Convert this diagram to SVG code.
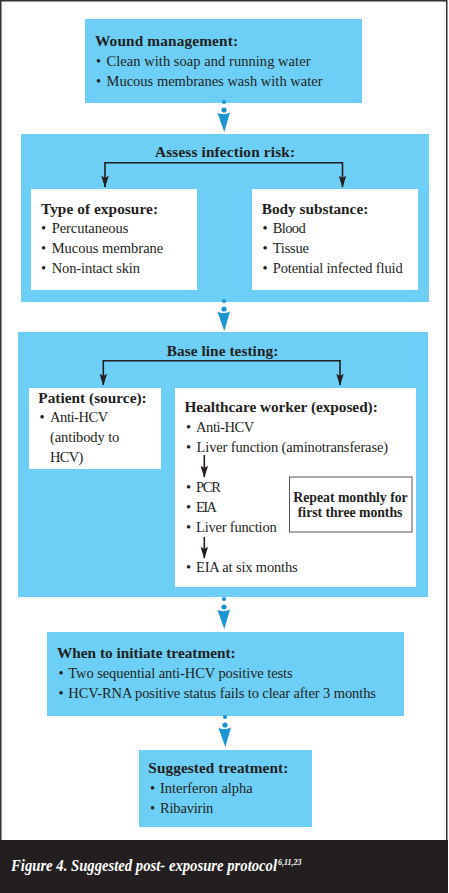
<svg xmlns="http://www.w3.org/2000/svg" xmlns:xlink="http://www.w3.org/1999/xlink" width="449" height="893" viewBox="0 0 449 893">
<style>
.blue{fill:#6dcff6}
.white{fill:#ffffff}
.t{font-family:"Liberation Serif","Times New Roman",serif;font-size:14.5px;fill:#231f20}
.b{font-family:"Liberation Serif","Times New Roman",serif;font-size:15.3px;font-weight:bold;fill:#231f20}
.rb{font-family:"Liberation Serif","Times New Roman",serif;font-size:13.8px;font-weight:bold;fill:#231f20}
.line{fill:none;stroke:#231f20;stroke-width:1.6}
.cap{font-family:"Liberation Serif","Times New Roman",serif;font-size:16px;font-weight:bold;font-style:italic;fill:#ffffff}
</style>
<defs>
<marker id="ah" viewBox="0 0 16 10" refX="15" refY="5" markerWidth="12" markerHeight="7.5" markerUnits="userSpaceOnUse" orient="auto-start-reverse">
<path d="M0,0 L16,5 L0,10 L3,5 Z" fill="#231f20"/>
</marker>
<g id="flow">
<circle cx="0" cy="0" r="2.1" fill="#1b95d3"/>
<circle cx="0" cy="8" r="2.6" fill="#1b95d3"/>
<path d="M-6.5,11 Q0,13.5 6,10.5 L0.3,30 Z" fill="#1b95d3"/>
</g>
</defs>
<rect x="0.75" y="0.75" width="446" height="892" fill="#ffffff" stroke="#333333" stroke-width="1.5"/>
<g id="caption">
<rect x="0" y="840" width="448" height="53" fill="#231f20"/>
<text class="cap" x="11" y="871"><tspan textLength="266" lengthAdjust="spacingAndGlyphs">Figure 4. Suggested post- exposure protocol</tspan><tspan dx="1" dy="-6" style="font-size:8px">6,11,23</tspan></text>
</g>
<g id="wound">
<rect class="blue" x="85" y="19" width="277" height="84"/>
<text class="b" x="95" y="45.7" textLength="143">Wound management:</text>
<text class="t" y="65.7"><tspan x="96">•</tspan><tspan x="106.5" textLength="204">Clean with soap and running water</tspan></text>
<text class="t" y="85.7"><tspan x="96">•</tspan><tspan x="106.5" textLength="216">Mucous membranes wash with water</tspan></text>
</g>
<g id="assess">
<rect class="blue" x="21" y="134" width="408" height="168"/>
<text class="b" x="155" y="156.7" textLength="140">Assess infection risk:</text>
</g>
<g id="exposure">
<rect class="white" x="31" y="189" width="166" height="101"/>
<text class="b" x="41" y="214" textLength="117">Type of exposure:</text>
<text class="t" y="233.3"><tspan x="41">•</tspan><tspan x="51.7" textLength="76.6">Percutaneous</tspan></text>
<text class="t" y="253.3"><tspan x="41">•</tspan><tspan x="51.7" textLength="111.6">Mucous membrane</tspan></text>
<text class="t" y="273.3"><tspan x="41">•</tspan><tspan x="51.7" textLength="88.3">Non-intact skin</tspan></text>
</g>
<g id="substance">
<rect class="white" x="252" y="189" width="166" height="101"/>
<text class="b" x="261.7" y="214" textLength="106.6">Body substance:</text>
<text class="t" y="233.3"><tspan x="262.5">•</tspan><tspan x="272.7" textLength="33">Blood</tspan></text>
<text class="t" y="253.3"><tspan x="262.5">•</tspan><tspan x="272.7" textLength="36.3">Tissue</tspan></text>
<text class="t" y="273.3"><tspan x="262.5">•</tspan><tspan x="272.7" textLength="130">Potential infected fluid</tspan></text>
</g>
<g id="baseline">
<rect class="blue" x="18" y="332" width="410" height="265"/>
<text class="b" x="166.7" y="356" textLength="111.6">Base line testing:</text>
</g>
<g id="patient">
<rect class="white" x="29" y="388" width="132" height="81"/>
<text class="b" x="38.3" y="402.7" textLength="108.4">Patient (source):</text>
<text class="t" y="421.7"><tspan x="39.5">•</tspan><tspan x="50" textLength="58.3">Anti-HCV</tspan></text>
<text class="t" x="50" y="441.7" textLength="69.3">(antibody to</text>
<text class="t" x="50" y="461.7" textLength="33.3">HCV)</text>
</g>
<g id="worker">
<rect class="white" x="175" y="388" width="241" height="199"/>
<text class="b" x="184.5" y="411.7" textLength="193.3">Healthcare worker (exposed):</text>
<text class="t" y="431.7"><tspan x="186">•</tspan><tspan x="196" textLength="58.3">Anti-HCV</tspan></text>
<text class="t" y="451.7"><tspan x="186">•</tspan><tspan x="196.5" textLength="191.6">Liver function (aminotransferase)</tspan></text>
<text class="t" y="491.7"><tspan x="186">•</tspan><tspan x="196" textLength="25">PCR</tspan></text>
<text class="t" y="511.7"><tspan x="186">•</tspan><tspan x="196" textLength="21">EIA</tspan></text>
<text class="t" y="531.7"><tspan x="186">•</tspan><tspan x="196" textLength="80.7">Liver function</tspan></text>
<text class="t" y="571.7"><tspan x="186">•</tspan><tspan x="196" textLength="101.7">EIA at six months</tspan></text>
</g>
<g id="repeat">
<rect x="289.5" y="477" width="122.5" height="55" fill="#ffffff" stroke="#555555" stroke-width="1"/>
<text class="rb" x="293.3" y="502" textLength="114.4">Repeat monthly for</text>
<text class="rb" x="297.8" y="517" textLength="104.6">first three months</text>
</g>
<g id="initiate">
<rect class="blue" x="47" y="632" width="357" height="84"/>
<text class="b" x="57" y="658.3" textLength="178.7">When to initiate treatment:</text>
<text class="t" y="678.3"><tspan x="58.5">•</tspan><tspan x="68.3" textLength="224.4">Two sequential anti-HCV positive tests</tspan></text>
<text class="t" y="697.7"><tspan x="58.5">•</tspan><tspan x="68.3" textLength="307.7">HCV-RNA positive status fails to clear after 3 months</tspan></text>
</g>
<g id="treatment">
<rect class="blue" x="139" y="750" width="173" height="77"/>
<text class="b" x="148.3" y="773.3" textLength="140">Suggested treatment:</text>
<text class="t" y="792.7"><tspan x="150">•</tspan><tspan x="160" textLength="92.7">Interferon alpha</tspan></text>
<text class="t" y="812.7"><tspan x="150">•</tspan><tspan x="160" textLength="53.3">Ribavirin</tspan></text>
</g>
<g id="connectors">
<use xlink:href="#flow" x="224" y="102"/>
<use xlink:href="#flow" x="224" y="301"/>
<use xlink:href="#flow" x="224" y="599"/>
<use xlink:href="#flow" x="225" y="717"/>
<path class="line" d="M105,187 V162.7 H342.5 V187" marker-start="url(#ah)" marker-end="url(#ah)"/>
<path class="line" d="M103.3,385 V360.7 H340 V385" marker-start="url(#ah)" marker-end="url(#ah)"/>
<path class="line" d="M204.3,455 V477" marker-end="url(#ah)"/>
<path class="line" d="M204.3,537 V558" marker-end="url(#ah)"/>
</g>
</svg>
